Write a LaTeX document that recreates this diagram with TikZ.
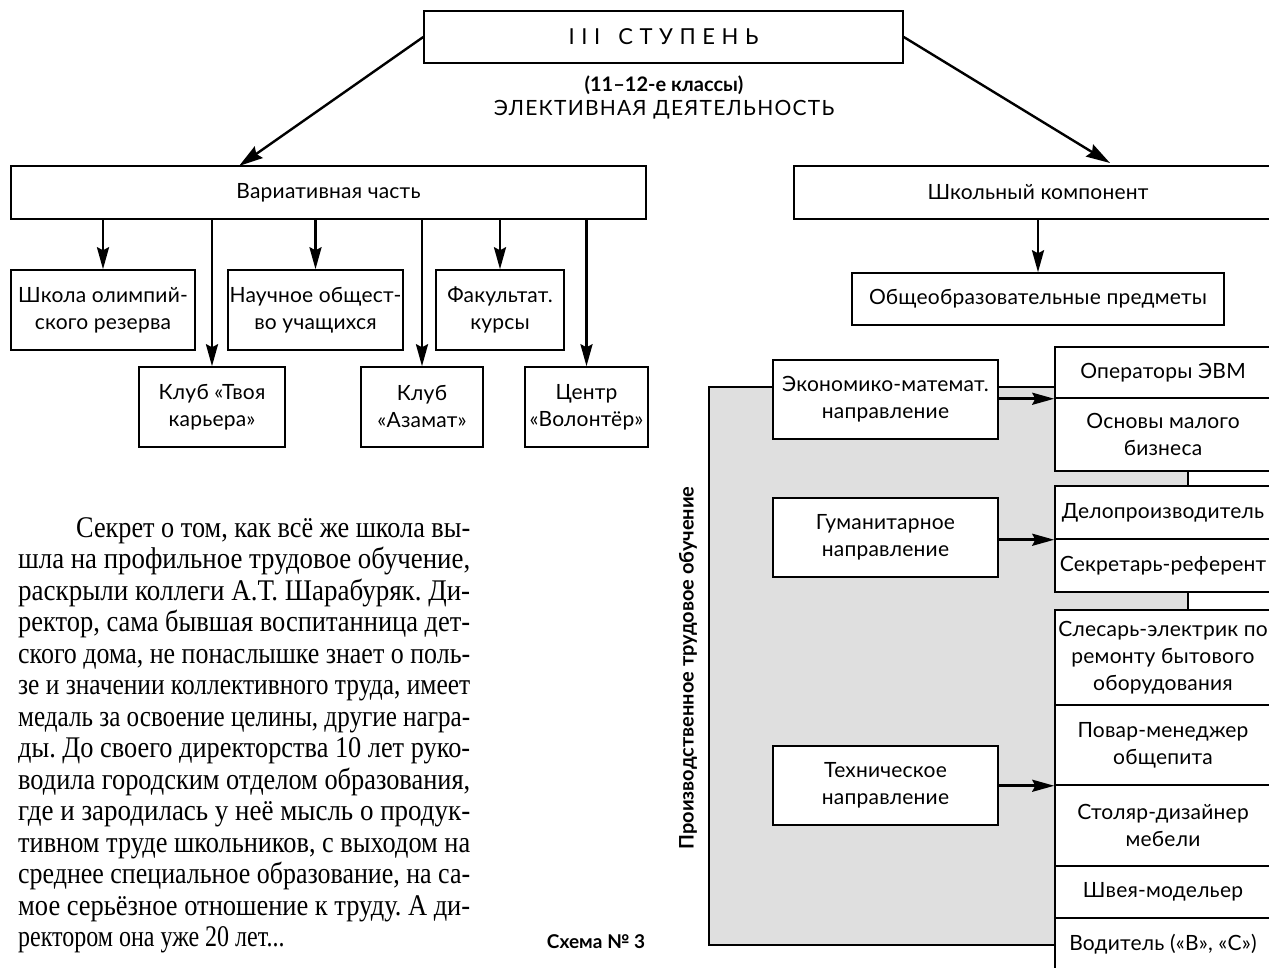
\documentclass[tikz,border=0pt]{standalone}
\usepackage{fontspec}
\usepackage{graphicx}
\setmainfont{Liberation Serif}
\usetikzlibrary{arrows.meta}
\newfontfamily\dfont[LetterSpace=1]{Lato}
\newfontfamily\bfont{Lato}
\newfontfamily\capsfont[LetterSpace=6]{Lato}
\newfontfamily\stepfont[LetterSpace=30]{Lato}
\newfontfamily\parafont[FakeStretch=0.8]{Liberation Serif}
\newcommand\fitline[2]{\resizebox{#1}{\height}{#2}}
\definecolor{panel}{gray}{0.875}
\tikzset{
  box/.style={draw, line width=1.5pt, fill=white, inner sep=0pt, align=center,
    font={\dfont\fontsize{21}{27}\selectfont}},
  arr/.style={line width=2.6pt, -{Stealth[length=22pt,width=12pt,inset=3pt]}},
  darr/.style={line width=2.4pt, -{Stealth[length=24pt,width=14pt,inset=3pt]}},
  pline/.style={anchor=base west, inner sep=0pt, font={\parafont\frenchspacing\fontsize{30}{31.5}\selectfont}},
  boldlabel/.style={inner sep=0pt, font={\bfont\bfseries\fontsize{19}{22}\selectfont}},
}
\begin{document}
\begin{tikzpicture}[x=1pt,y=1pt]
\useasboundingbox (0,0) rectangle (1269,-967);
\clip (0,0) rectangle (1269,-967);
% top
\node[box, minimum width=479pt, minimum height=52pt, font={\stepfont\fontsize{22}{24}\selectfont}] (top) at (663.5,-37) {III\hspace{18pt}СТУПЕНЬ};
\node[boldlabel, font={\bfont\bfseries\fontsize{20}{22}\selectfont}] (sub1) at (664,-85) {(11–12-е классы)};
\node[inner sep=0pt, font={\capsfont\fontsize{21}{22}\selectfont}] (sub2) at (664,-110) {ЭЛЕКТИВНАЯ ДЕЯТЕЛЬНОСТЬ};
% level 2
\node[box, minimum width=635pt, minimum height=53pt] (var) at (328.5,-192.5) {Вариативная часть};
\node[box, minimum width=488pt, minimum height=53pt] (school) at (1038,-192.5) {Школьный компонент};
\coordinate (varin) at (239,-166);
\coordinate (schin) at (1110,-163);
\draw[darr] (top.west) -- (varin);
\draw[darr] (top.east) -- (schin);
% left boxes
\node[box, minimum width=184pt, minimum height=80pt] (b1) at (103,-310) {Школа олимпий-\\ского резерва};
\node[box, minimum width=175pt, minimum height=80pt] (b3) at (315.5,-310) {Научное общест-\\во учащихся};
\node[box, minimum width=128pt, minimum height=80pt] (b5) at (500,-310) {Факультат.\\курсы};
\node[box, minimum width=146pt, minimum height=80pt] (b2) at (212,-407) {Клуб «Твоя\\карьера»};
\node[box, minimum width=122pt, minimum height=80pt] (b4) at (422,-407) {Клуб\\«Азамат»};
\node[box, minimum width=123pt, minimum height=80pt] (b6) at (586.5,-407) {Центр\\«Волонтёр»};
\foreach \b in {b1,b2,b3,b4,b5,b6}
  \draw[arr] (\b.north |- var.south) -- (\b.north);
% right part
\node[box, minimum width=372pt, minimum height=52pt] (gen) at (1038,-299) {Общеобразовательные предметы};
\draw[arr] (gen.north |- school.south) -- (gen.north);
\node[draw, line width=1.5pt, fill=panel, inner sep=0pt, minimum width=479pt, minimum height=558pt] (prod) at (948.5,-666) {};
\node[inner sep=0pt, rotate=90, font={\bfont\bfseries\fontsize{20}{22}\selectfont}] (plabel) at (688,-668) {Производственное трудовое обучение};
\node[box, minimum width=225pt, minimum height=79pt] (econ) at (885.5,-399.5) {Экономико-математ.\\направление};
\node[box, minimum width=225pt, minimum height=79pt] (hum) at (885.5,-537.5) {Гуманитарное\\направление};
\node[box, minimum width=225pt, minimum height=79pt] (tech) at (885.5,-785.5) {Техническое\\направление};
\node[box, minimum width=216pt, minimum height=51pt] (r1) at (1163,-372.5) {Операторы ЭВМ};
\node[box, minimum width=216pt, minimum height=73pt] (r2) at (1163,-434.5) {Основы малого\\бизнеса};
\node[box, minimum width=216pt, minimum height=53pt] (r3) at (1163,-512.5) {Делопроизводитель};
\node[box, minimum width=216pt, minimum height=53pt] (r4) at (1163,-565.5) {Секретарь-референт};
\node[box, minimum width=216pt, minimum height=95pt] (r5) at (1163,-657.5) {Слесарь-электрик по\\ремонту бытового\\оборудования};
\node[box, minimum width=216pt, minimum height=80pt] (r6) at (1163,-745) {Повар-менеджер\\общепита};
\node[box, minimum width=216pt, minimum height=81pt] (r7) at (1163,-825.5) {Столяр-дизайнер\\мебели};
\node[box, minimum width=216pt, minimum height=52pt] (r8) at (1163,-892) {Швея-модельер};
\node[box, minimum width=216pt, minimum height=52pt] (r9) at (1163,-944) {Водитель («В», «С»)};
\draw[arr] (econ.east |- r1.south west) -- (r1.south west);
\draw[arr] (hum.east |- r3.south west) -- (r3.south west);
\draw[arr] (tech.east |- r6.south west) -- (r6.south west);
\node[boldlabel] (schema) at (596,-942) {Схема №~3};
% paragraph
\node[pline] (l1) at (76,-537) {\fitline{394pt}{Секрет о том, как всё же школа вы-}};
\node[pline] (l2) at (18,-568.5) {\fitline{452pt}{шла на профильное трудовое обучение,}};
\node[pline] (l3) at (18,-600) {\fitline{452pt}{раскрыли коллеги А.Т. Шарабуряк. Ди-}};
\node[pline] (l4) at (18,-631.5) {\fitline{452pt}{ректор, сама бывшая воспитанница дет-}};
\node[pline] (l5) at (18,-663) {\fitline{452pt}{ского дома, не понаслышке знает о поль-}};
\node[pline] (l6) at (18,-694.5) {\fitline{452pt}{зе и значении коллективного труда, имеет}};
\node[pline] (l7) at (18,-726) {\fitline{452pt}{медаль за освоение целины, другие награ-}};
\node[pline] (l8) at (18,-757.5) {\fitline{452pt}{ды. До своего директорства 10 лет руко-}};
\node[pline] (l9) at (18,-789) {\fitline{452pt}{водила городским отделом образования,}};
\node[pline] (l10) at (18,-820.5) {\fitline{452pt}{где и зародилась у неё мысль о продук-}};
\node[pline] (l11) at (18,-852) {\fitline{452pt}{тивном труде школьников, с выходом на}};
\node[pline] (l12) at (18,-883.5) {\fitline{452pt}{среднее специальное образование, на са-}};
\node[pline] (l13) at (18,-915) {\fitline{452pt}{мое серьёзное отношение к труду. А ди-}};
\node[pline] (l14) at (18,-946.5) {ректором она уже 20 лет...};
\end{tikzpicture}
\end{document}
